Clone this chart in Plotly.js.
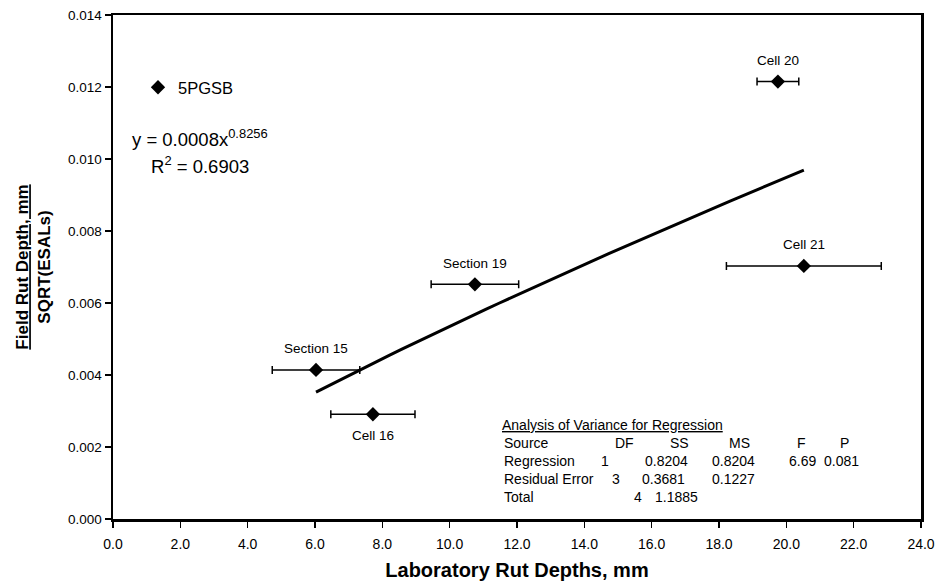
<!DOCTYPE html>
<html>
<head>
<meta charset="utf-8">
<script src="https://cdn.plot.ly/plotly-3.0.1.min.js"></script>
<style>
  html, body { margin: 0; padding: 0; background: #ffffff; }
  #chart { width: 941px; height: 586px; }
</style>
</head>
<body>
<div id="chart"></div>
<script>
// Laboratory rut depth vs. normalised field rut depth, 5PGSB sections
var sectionNames = ["Section 15", "Cell 16", "Section 19", "Cell 20", "Cell 21"];
var labRut = [6.03, 7.72, 10.75, 19.75, 20.52];          // mm
var labRutErr = [1.3, 1.25, 1.3, 0.62, 2.3];             // +/- mm
var fieldRutNorm = [0.00414, 0.00291, 0.00652, 0.01215, 0.00703]; // mm / sqrt(ESALs)
var labelSide = ["above", "below", "above", "above", "above"];

// Power trendline y = a * x^b as reported with the fit
var trendA = 0.0008;
var trendB = 0.8256;
var trendR2 = "0.6903";

// ANOVA table
var anovaTitle = "Analysis of Variance for Regression";
var anovaHeader = ["Source", "DF", "SS", "MS", "F", "P"];
var anovaRows = [
  ["Regression", "1", "0.8204", "0.8204", "6.69", "0.081"],
  ["Residual Error", "3", "0.3681", "0.1227", "", ""],
  ["Total", "4", "1.1885", "", "", ""]
];

var FONT = "Liberation Sans, Arial, Helvetica, sans-serif";

// trendline sampled across the span of the measured points
var xMin = Math.min.apply(null, labRut), xMax = Math.max.apply(null, labRut);
var trendX = [], trendY = [];
for (var i = 0; i <= 40; i++) {
  var xv = xMin + (xMax - xMin) * i / 40;
  trendX.push(xv);
  trendY.push(trendA * Math.pow(xv, trendB));
}

var traces = [
  {
    x: trendX, y: trendY, mode: "lines", type: "scatter",
    line: { color: "#000000", width: 3 },
    showlegend: false, hoverinfo: "skip"
  },
  {
    x: labRut, y: fieldRutNorm, mode: "markers", type: "scatter",
    name: "5PGSB",
    marker: { symbol: "diamond", size: 11, color: "#000000" },
    error_x: { type: "data", array: labRutErr, visible: true,
               color: "#000000", thickness: 1.5, width: 4 }
  }
];

// plot-area pixel geometry (used to place the table in paper units)
var W = 941, H = 586;
var M = { l: 113, r: 20, t: 15, b: 67 };
var PW = W - M.l - M.r, PH = H - M.t - M.b;
function px(xp) { return (xp - M.l) / PW; }
function py(yp) { return (H - M.b - yp) / PH; }

var annotations = [];

// point labels
for (var k = 0; k < sectionNames.length; k++) {
  annotations.push({
    x: labRut[k], y: fieldRutNorm[k], xref: "x", yref: "y",
    text: sectionNames[k], showarrow: false,
    yshift: labelSide[k] === "above" ? 21 : -21,
    font: { family: FONT, size: 13.5, color: "#000000" }
  });
}

// regression equation
annotations.push({
  xref: "paper", yref: "paper", x: px(200), y: py(138),
  text: "y = " + trendA + "x<sup>" + trendB + "</sup>", showarrow: false,
  xanchor: "center", yanchor: "middle",
  font: { family: FONT, size: 18.5, color: "#000000" }
});
annotations.push({
  xref: "paper", yref: "paper", x: px(200), y: py(165),
  text: "R<sup>2</sup> = " + trendR2, showarrow: false,
  xanchor: "center", yanchor: "middle",
  font: { family: FONT, size: 18.5, color: "#000000" }
});

// ANOVA table cells
var colLeft = {
  header: [502, 613, 668, 727, 795, 838],
  rows: [
    [502, 599, 643, 710, 787, 822],
    [502, 610, 640, 710, 0, 0],
    [502, 632, 653, 0, 0, 0]
  ]
};
var rowY = [443, 461, 479, 497];
var tableFont = { family: FONT, size: 14, color: "#000000" };
annotations.push({
  xref: "paper", yref: "paper", x: px(500), y: py(425),
  text: "<u>" + anovaTitle + "</u>", showarrow: false,
  xanchor: "left", yanchor: "middle", font: tableFont
});
anovaHeader.forEach(function (h, c) {
  annotations.push({
    xref: "paper", yref: "paper", x: px(colLeft.header[c]), y: py(rowY[0]),
    text: h, showarrow: false, xanchor: "left", yanchor: "middle", font: tableFont
  });
});
anovaRows.forEach(function (row, r) {
  row.forEach(function (cell, c) {
    if (!cell) return;
    annotations.push({
      xref: "paper", yref: "paper", x: px(colLeft.rows[r][c]), y: py(rowY[r + 1]),
      text: cell, showarrow: false, xanchor: "left", yanchor: "middle", font: tableFont
    });
  });
});

var layout = {
  width: W, height: H,
  margin: M,
  paper_bgcolor: "#ffffff", plot_bgcolor: "#ffffff",
  font: { family: FONT, color: "#000000" },
  showlegend: true,
  legend: {
    x: px(138), y: py(70), xanchor: "left", yanchor: "top",
    bgcolor: "rgba(0,0,0,0)", itemwidth: 30,
    font: { family: FONT, size: 16.5, color: "#000000" }
  },
  xaxis: {
    range: [0, 24], dtick: 2, tick0: 0, tickformat: ".1f",
    ticks: "outside", ticklen: 6, tickwidth: 1.5, tickcolor: "#000000",
    ticklabelstandoff: 5,
    showgrid: false, zeroline: false,
    showline: true, mirror: true, linewidth: 2.5, linecolor: "#000000",
    tickfont: { family: FONT, size: 14, color: "#000000" },
    title: { text: "<b>Laboratory Rut Depths, mm</b>", standoff: 12,
             font: { family: FONT, size: 20, color: "#000000" } }
  },
  yaxis: {
    range: [0, 0.014], dtick: 0.002, tick0: 0, tickformat: ".3f",
    ticks: "outside", ticklen: 6, tickwidth: 1.5, tickcolor: "#000000",
    showgrid: false, zeroline: false,
    showline: true, mirror: true, linewidth: 2.5, linecolor: "#000000",
    tickfont: { family: FONT, size: 13.5, color: "#000000" },
    title: { text: "<b><u>Field Rut Depth, mm</u><br>SQRT(ESALs)</b>", standoff: 13,
             font: { family: FONT, size: 17, color: "#000000" } }
  },
  annotations: annotations
};

Plotly.newPlot("chart", traces, layout, { displayModeBar: false, staticPlot: true });
</script>
</body>
</html>
